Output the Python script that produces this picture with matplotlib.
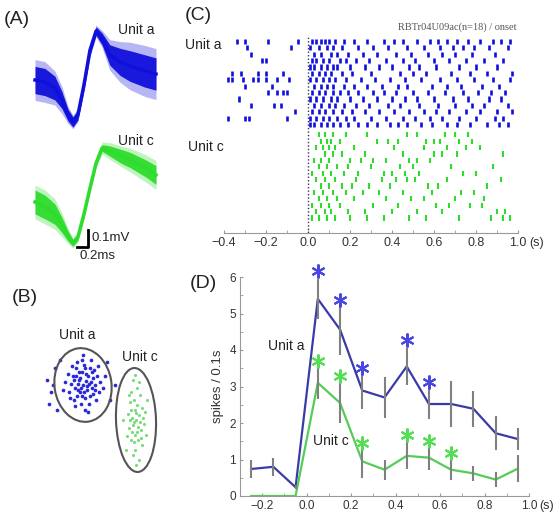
import matplotlib
matplotlib.use("Agg")
import matplotlib.pyplot as plt
from matplotlib.patches import Ellipse
from matplotlib.ticker import MultipleLocator

plt.rcParams['font.family'] = ['Liberation Sans', 'DejaVu Sans']

W, H = 556, 515

### DATA ###

# (A) mean waveforms (mV) and envelope half-widths, sampled at wave_t (ms)
wave_t = [0, 0.18, 0.36, 0.49, 0.6, 0.69, 0.78, 0.89, 1.0, 1.11, 1.22, 1.36, 1.55, 1.73, 2.0, 2.2]
wave_a = [0, -0.012, -0.047, -0.118, -0.206, -0.247, -0.206, -0.029, 0.176, 0.288, 0.241, 0.147, 0.106, 0.082, 0.053, 0.035]
wave_a_in = [0.08, 0.08, 0.07, 0.05, 0.035, 0.03, 0.03, 0.03, 0.03, 0.025, 0.035, 0.06, 0.08, 0.09, 0.095, 0.095]
wave_a_out = [0.12, 0.12, 0.1, 0.08, 0.05, 0.04, 0.04, 0.04, 0.04, 0.035, 0.05, 0.09, 0.12, 0.14, 0.15, 0.15]
wave_c = [0, -0.029, -0.071, -0.135, -0.2, -0.241, -0.206, -0.071, 0.082, 0.229, 0.318, 0.3, 0.271, 0.247, 0.2, 0.159]
wave_c_in = [0.07, 0.07, 0.06, 0.045, 0.03, 0.02, 0.02, 0.02, 0.02, 0.02, 0.02, 0.03, 0.04, 0.045, 0.05, 0.055]
wave_c_out = [0.1, 0.1, 0.09, 0.07, 0.045, 0.03, 0.03, 0.03, 0.03, 0.03, 0.035, 0.05, 0.06, 0.07, 0.08, 0.085]

# (B) feature space points (arbitrary units)
feat_a_x = [48, 44, 52, 40, 56, 47, 50, 38, 58, 45, 53, 42, 60, 36, 49, 55, 41, 62, 46, 54,
            34, 64, 51, 43, 57, 39, 47, 59, 33, 65, 50, 42, 56, 30, 68, 45, 52, 49, 44, 58,
            37, 61, 40, 55, 48, 35, 63, 28, 70, 53, 46, 51, 43, 57, 39, 60, 47, 54, 41, 50,
            12, 16, 20, 14, 75, 25, 22, 72, 18, 80]
feat_a_y = [95, 100, 90, 92, 98, 108, 82, 104, 86, 88, 104, 84, 95, 96, 115, 112, 112, 104, 76, 76,
            88, 88, 99, 96, 92, 80, 120, 110, 106, 98, 70, 118, 120, 98, 92, 102, 94, 88, 108, 102,
            114, 80, 74, 84, 125, 82, 114, 90, 104, 68, 92, 106, 90, 108, 100, 90, 84, 96, 104, 112,
            100, 88, 112, 76, 80, 120, 70, 118, 95, 95]
feat_c_x = [101, 98, 104, 96, 106, 100, 102, 95, 108, 99, 103, 97, 105, 94, 107, 100, 102, 93, 109, 98,
            104, 96, 101, 99, 106, 95, 103, 97, 105, 100, 92, 110, 98, 104, 101, 94, 107, 99, 102, 96,
            88, 112, 100, 91, 111]
feat_c_y = [60, 55, 65, 70, 50, 45, 75, 60, 62, 80, 40, 48, 85, 52, 72, 30, 92, 66, 56, 100,
            20, 88, 67, 38, 42, 78, 53, 62, 58, 70, 44, 68, 25, 98, 15, 85, 35, 58, 48, 40,
            60, 80, 105, 30, 45]

# (C) spike times (s) per trial, top trial first
spikes_a = [
    [-0.34, -0.30, -0.19, -0.05, 0.02, 0.04, 0.06, 0.08, 0.10, 0.13, 0.17, 0.22, 0.28, 0.36, 0.41, 0.45, 0.52, 0.58, 0.62, 0.66, 0.71, 0.76, 0.82, 0.88, 0.92, 0.96],
    [-0.29, -0.08, 0.01, 0.05, 0.09, 0.12, 0.16, 0.24, 0.31, 0.38, 0.47, 0.55, 0.63, 0.69, 0.74, 0.79, 0.86, 0.95],
    [-0.27, 0.03, 0.06, 0.11, 0.14, 0.19, 0.26, 0.33, 0.42, 0.49, 0.57, 0.64, 0.70, 0.78, 0.89],
    [-0.22, -0.20, 0.02, 0.04, 0.07, 0.10, 0.15, 0.18, 0.23, 0.29, 0.37, 0.45, 0.51, 0.60, 0.67, 0.75, 0.84, 0.93],
    [0.01, 0.03, 0.06, 0.09, 0.12, 0.14, 0.20, 0.27, 0.34, 0.40, 0.48, 0.53, 0.61, 0.72, 0.80, 0.90],
    [-0.36, -0.32, -0.24, -0.20, -0.12, 0.02, 0.05, 0.08, 0.11, 0.16, 0.21, 0.30, 0.44, 0.50, 0.56, 0.68, 0.77, 0.85, 0.97],
    [-0.38, -0.36, -0.31, -0.26, -0.24, -0.20, -0.15, -0.09, 0.01, 0.04, 0.07, 0.10, 0.13, 0.18, 0.25, 0.32, 0.39, 0.46, 0.54, 0.63, 0.71, 0.79, 0.88, 0.96],
    [-0.30, -0.17, 0.03, 0.06, 0.09, 0.12, 0.17, 0.22, 0.28, 0.35, 0.43, 0.47, 0.59, 0.66, 0.73, 0.83, 0.91],
    [-0.19, -0.15, -0.12, -0.10, 0.02, 0.05, 0.08, 0.12, 0.15, 0.19, 0.24, 0.31, 0.36, 0.42, 0.50, 0.57, 0.65, 0.74, 0.81, 0.87, 0.94],
    [-0.33, 0.01, 0.04, 0.07, 0.11, 0.14, 0.20, 0.26, 0.33, 0.40, 0.46, 0.52, 0.60, 0.69, 0.76, 0.86, 0.92],
    [-0.27, -0.16, -0.13, 0.03, 0.06, 0.10, 0.13, 0.17, 0.23, 0.29, 0.38, 0.44, 0.53, 0.62, 0.70, 0.78, 0.84, 0.95],
    [-0.06, 0.02, 0.05, 0.08, 0.12, 0.16, 0.21, 0.27, 0.34, 0.41, 0.48, 0.55, 0.61, 0.67, 0.75, 0.82, 0.90, 0.97],
    [-0.38, -0.30, -0.28, -0.10, 0.01, 0.04, 0.07, 0.10, 0.14, 0.18, 0.22, 0.30, 0.37, 0.45, 0.51, 0.58, 0.64, 0.72, 0.80, 0.89, 0.93],
    [0.01, 0.03, 0.06, 0.09, 0.12, 0.15, 0.19, 0.24, 0.28, 0.33, 0.39, 0.43, 0.47, 0.54, 0.59, 0.66, 0.71, 0.77, 0.85, 0.91, 0.95],
]
spikes_c = [
    [0.05, 0.08, 0.12, 0.18, 0.28, 0.47, 0.52, 0.65, 0.70, 0.76],
    [0.06, 0.09, 0.11, 0.15, 0.33, 0.38, 0.43, 0.56, 0.60, 0.63, 0.72, 0.78],
    [0.04, 0.07, 0.10, 0.13, 0.22, 0.41, 0.55, 0.66, 0.75, 0.82],
    [0.08, 0.12, 0.16, 0.27, 0.45, 0.60, 0.64, 0.71, 0.93],
    [0.03, 0.06, 0.10, 0.20, 0.25, 0.31, 0.37, 0.48, 0.52, 0.58],
    [0.05, 0.09, 0.14, 0.19, 0.30, 0.44, 0.50, 0.68, 0.88],
    [0.02, 0.07, 0.11, 0.17, 0.24, 0.36, 0.40, 0.46, 0.53, 0.74, 0.80],
    [0.04, 0.08, 0.13, 0.23, 0.35, 0.42, 0.47, 0.51, 0.66, 0.92],
    [0.06, 0.10, 0.16, 0.21, 0.29, 0.39, 0.57, 0.62, 0.85],
    [0.03, 0.07, 0.12, 0.18, 0.26, 0.34, 0.45, 0.59, 0.73, 0.79],
    [0.05, 0.09, 0.14, 0.22, 0.37, 0.49, 0.55, 0.70, 0.84],
    [0.02, 0.06, 0.10, 0.15, 0.31, 0.43, 0.61, 0.67, 0.77, 0.83],
    [0.04, 0.08, 0.11, 0.19, 0.27, 0.40, 0.52, 0.64, 0.90, 0.94],
    [0.02, 0.05, 0.09, 0.13, 0.20, 0.28, 0.36, 0.48, 0.56, 0.72, 0.87, 0.93, 0.96],
]

# (D) PSTH, spikes / 0.1 s
bins = [-0.25, -0.15, -0.05, 0.05, 0.15, 0.25, 0.35, 0.45, 0.55, 0.65, 0.75, 0.85, 0.95]
rate_a = [0.74, 0.80, 0.24, 5.40, 4.56, 2.89, 2.70, 3.55, 2.52, 2.52, 2.39, 1.72, 1.56]
sem_a = [0.24, 0.24, 0.05, 0.55, 0.70, 0.52, 0.55, 0.50, 0.41, 0.64, 0.50, 0.46, 0.30]
rate_c = [0, 0, 0, 3.10, 2.55, 0.95, 0.72, 1.10, 1.05, 0.72, 0.62, 0.45, 0.75]
sem_c = [0, 0, 0, 0.45, 0.55, 0.45, 0.28, 0.37, 0.35, 0.28, 0.20, 0.20, 0.37]
star_a_x = [0.05, 0.15, 0.25, 0.45, 0.55]
star_a_y = [6.16, 5.36, 3.50, 4.28, 3.12]
star_c_x = [0.05, 0.15, 0.25, 0.45, 0.55, 0.65]
star_c_y = [3.69, 3.28, 1.46, 1.67, 1.52, 1.19]

BLUE = '#1010dc'
GREEN = '#2edc2e'

fig = plt.figure(figsize=(W / 100, H / 100), dpi=100)


def px_axes(x0, y0, x1, y1):
    return fig.add_axes([x0 / W, 1 - y1 / H, (x1 - x0) / W, (y1 - y0) / H])


def px_text(x, y, s, **kw):
    fig.text(x / W, 1 - y / H, s, **kw)


### (A) waveforms ###
axA = px_axes(30, 20, 165, 262)
axA.set_xlim(-5 / 55, 130 / 55)
axA.set_ylim(0, 242 / 170)
axA.axis('off')
for wave, w_in, w_out, col, off in [(wave_a, wave_a_in, wave_a_out, BLUE, 182 / 170),
                                      (wave_c, wave_c_in, wave_c_out, GREEN, 60 / 170)]:
    axA.fill_between(wave_t, [v + off - d for v, d in zip(wave, w_out)],
                     [v + off + d for v, d in zip(wave, w_out)], color=col, alpha=0.3, lw=0)
    axA.fill_between(wave_t, [v + off - d for v, d in zip(wave, w_in)],
                     [v + off + d for v, d in zip(wave, w_in)], color=col, alpha=0.95, lw=0)
    axA.plot(wave_t, [v + off for v in wave], color=col, lw=2.5)
# scale bar 0.2 ms x 0.1 mV
axA.plot([0.764, 0.964, 0.964], [15 / 170, 15 / 170, 15 / 170 + 0.1], color='black', lw=2)

px_text(4, 20, '(A)', fontsize=14, va='center', color='#222222')
px_text(118, 30, 'Unit a', fontsize=10, va='center', color='#222222')
px_text(118, 141, 'Unit c', fontsize=10, va='center', color='#222222')
px_text(91, 238, '0.1mV', fontsize=9.5, va='center', color='#222222')
px_text(97, 256, '0.2ms', fontsize=9.5, va='center', ha='center', color='#222222')

### (B) clusters ###
axB = px_axes(35, 325, 165, 480)
axB.set_xlim(0, 130)
axB.set_ylim(0, 155)
axB.axis('off')
axB.scatter(feat_a_x, feat_a_y, s=7, color='#2a2ad8', lw=0)
axB.scatter(feat_c_x, feat_c_y, s=5, color='#77dd77', lw=0)
axB.add_patch(Ellipse((48, 95), 57, 74, angle=8, fill=False, ec='#555555', lw=1.5))
axB.add_patch(Ellipse((101, 60), 40, 104, angle=2, fill=False, ec='#555555', lw=1.5))

px_text(12, 298, '(B)', fontsize=14, va='center', color='#222222')
px_text(77, 335, 'Unit a', fontsize=10, va='center', ha='center', color='#222222')
px_text(140, 357, 'Unit c', fontsize=10, va='center', ha='center', color='#222222')

### (C) raster ###
axC = px_axes(224, 35, 518, 233)
axC.set_xlim(-0.4, 1.0)
axC.set_ylim(-2.34, 28.6)
n_a = len(spikes_a)
n_c = len(spikes_c)
axC.eventplot(spikes_a, lineoffsets=[14.6 + n_a - 1 - i for i in range(n_a)],
              linelengths=0.8, colors=BLUE, linewidths=1.9)
axC.eventplot(spikes_c, lineoffsets=[n_c - 1 - i for i in range(n_c)],
              linelengths=0.8, colors=GREEN, linewidths=1.5)
axC.axvline(0, color='#333366', lw=1, ls=(0, (1, 1.5)))
for s in ['top', 'right', 'left']:
    axC.spines[s].set_visible(False)
axC.spines['bottom'].set_color('#999999')
axC.set_yticks([])
axC.set_xticks([-0.4, -0.2, 0.0, 0.2, 0.4, 0.6, 0.8, 1.0])
axC.xaxis.set_minor_locator(MultipleLocator(0.1))
axC.tick_params(axis='x', which='both', direction='in', length=2, color='#999999',
                labelsize=9, labelcolor='#333333', pad=3)

px_text(185, 16, '(C)', fontsize=14, va='center', color='#222222')
px_text(185, 45, 'Unit a', fontsize=10, va='center', color='#222222')
px_text(188, 147, 'Unit c', fontsize=10, va='center', color='#222222')
px_text(517, 27, 'RBTr04U09ac(n=18) / onset', fontsize=7.5, va='center', ha='right',
        color='#555555', family='Liberation Serif')
px_text(529, 243, '(s)', fontsize=9, va='center', color='#333333')

### (D) PSTH ###
axD = px_axes(240, 277, 529, 496)
axD.set_xlim(-0.3, 1.0)
axD.set_ylim(0, 6)
axD.errorbar(bins, rate_a, yerr=sem_a, fmt='none', ecolor='#808080', elinewidth=1.5, zorder=3)
axD.errorbar(bins, rate_c, yerr=sem_c, fmt='none', ecolor='#808080', elinewidth=1.5, zorder=3)
axD.plot(bins, rate_a, color='#3b3ba8', lw=1.6, zorder=2)
axD.plot(bins, rate_c, color='#55cc55', lw=1.6, zorder=2)
axD.plot(star_a_x, star_a_y, ls='none', marker=(6, 2, 0), ms=10, mew=1.5,
         mec='#4848e0', clip_on=False, zorder=4)
axD.plot(star_c_x, star_c_y, ls='none', marker=(6, 2, 0), ms=10, mew=1.5,
         mec='#55dd55', clip_on=False, zorder=4)
for s in ['top', 'right']:
    axD.spines[s].set_visible(False)
for s in ['left', 'bottom']:
    axD.spines[s].set_color('#999999')
axD.set_xticks([-0.2, 0.0, 0.2, 0.4, 0.6, 0.8, 1.0])
axD.xaxis.set_minor_locator(MultipleLocator(0.1))
axD.set_yticks(range(7))
axD.yaxis.set_minor_locator(MultipleLocator(0.5))
axD.tick_params(which='both', direction='in', length=2, color='#999999',
                labelsize=8.5, labelcolor='#333333', pad=3)
axD.set_ylabel('spikes / 0.1s', fontsize=9.5, color='#333333', labelpad=4)
axD.text(-0.01, 4.1, 'Unit a', fontsize=10, ha='right', va='center', color='#222222')
axD.text(0.03, 1.5, 'Unit c', fontsize=10, va='center', color='#222222')

px_text(190, 283, '(D)', fontsize=14, va='center', color='#222222')
px_text(539, 506, '(s)', fontsize=9, va='center', color='#333333')

plt.savefig('out.png', dpi=100)
